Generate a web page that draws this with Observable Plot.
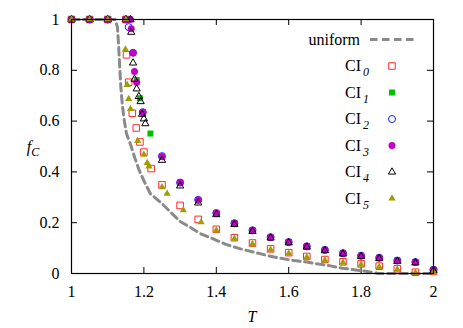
<!DOCTYPE html>
<html><head><meta charset="utf-8">
<script src="https://cdn.jsdelivr.net/npm/d3@7"></script>
<script src="https://cdn.jsdelivr.net/npm/@observablehq/plot@0.6"></script>
<style>body{margin:0;background:#fff}</style>
</head><body><div id="chart"></div>
<script>
// ---- data ----
const xTicks = [1, 1.2, 1.4, 1.6, 1.8, 2];
const yTicks = [0, 0.2, 0.4, 0.6, 0.8, 1];
const xLabel = "T";
const yLabelMain = "f", yLabelSub = "C";
const uniformLabel = "uniform";
const legendBase = "CI";
const legendSubs = ["0", "1", "2", "3", "4", "5"];

const uniT = [1.0, 1.12, 1.127, 1.13, 1.133, 1.136, 1.14, 1.145, 1.152, 1.165, 1.175, 1.186, 1.2, 1.218, 1.25, 1.275, 1.3, 1.33, 1.356, 1.39, 1.43, 1.467, 1.504, 1.54, 1.577, 1.614, 1.65, 1.688, 1.715, 1.748, 1.78, 1.817, 1.85, 2.0];
const uniF = [1, 1, 0.97, 0.9, 0.82, 0.74, 0.67, 0.61, 0.55, 0.5, 0.455, 0.41, 0.365, 0.314, 0.275, 0.24, 0.205, 0.18, 0.157, 0.137, 0.113, 0.097, 0.084, 0.071, 0.06, 0.051, 0.045, 0.036, 0.03, 0.021, 0.015, 0.008, 0, 0];

const ci0T = [1, 1.05, 1.1, 1.15, 1.152, 1.158, 1.168, 1.179, 1.189, 1.2, 1.22, 1.25, 1.3, 1.35, 1.4, 1.45, 1.5, 1.55, 1.6, 1.65, 1.7, 1.75, 1.8, 1.85, 1.9, 1.95, 2.0];
const ci0F = [1, 1, 1, 1, 0.861, 0.753, 0.631, 0.573, 0.518, 0.478, 0.413, 0.349, 0.268, 0.213, 0.174, 0.141, 0.12, 0.097, 0.082, 0.067, 0.055, 0.046, 0.038, 0.029, 0.019, 0.005, 0.008];

const ci1T = [1, 1.05, 1.1, 1.15, 1.18, 1.189, 1.218, 1.25, 1.3, 1.35, 1.4, 1.45, 1.5, 1.55, 1.6, 1.65, 1.7, 1.75, 1.8, 1.85, 1.9, 1.95, 2.0];
const ci1F = [1, 1, 1, 1, 0.762, 0.69, 0.551, 0.46, 0.358, 0.289, 0.238, 0.198, 0.17, 0.143, 0.124, 0.107, 0.093, 0.08, 0.07, 0.062, 0.051, 0.045, 0.015];

const ci2T = [1, 1.05, 1.1, 1.15, 1.158, 1.17, 1.197, 1.25, 1.3, 1.35, 1.4, 1.45, 1.5, 1.55, 1.6, 1.65, 1.7, 1.75, 1.8, 1.85, 1.9, 1.95, 2.0];
const ci2F = [1, 1, 1, 1, 0.97, 0.869, 0.635, 0.462, 0.358, 0.29, 0.238, 0.198, 0.17, 0.143, 0.124, 0.107, 0.093, 0.08, 0.07, 0.062, 0.051, 0.045, 0.015];

const ci3T = [1, 1.05, 1.1, 1.15, 1.163, 1.165, 1.17, 1.174, 1.18, 1.197, 1.25, 1.3, 1.35, 1.4, 1.45, 1.5, 1.55, 1.6, 1.65, 1.7, 1.75, 1.8, 1.85, 1.9, 1.95, 2.0];
const ci3F = [1, 1, 1, 1, 1, 0.964, 0.869, 0.795, 0.753, 0.635, 0.46, 0.358, 0.289, 0.238, 0.198, 0.17, 0.143, 0.124, 0.107, 0.093, 0.08, 0.07, 0.062, 0.051, 0.045, 0.015];

const ci4T = [1, 1.05, 1.1, 1.15, 1.163, 1.165, 1.17, 1.174, 1.18, 1.186, 1.191, 1.195, 1.2, 1.204, 1.25, 1.3, 1.35, 1.4, 1.45, 1.5, 1.55, 1.6, 1.65, 1.7, 1.75, 1.8, 1.85, 1.9, 1.95, 2.0];
const ci4F = [1, 1, 1, 1, 1, 0.95, 0.829, 0.765, 0.727, 0.697, 0.677, 0.627, 0.609, 0.59, 0.446, 0.345, 0.278, 0.232, 0.193, 0.166, 0.14, 0.121, 0.104, 0.09, 0.077, 0.067, 0.059, 0.048, 0.042, 0.012];

const ci5T = [1, 1.05, 1.1, 1.15, 1.149, 1.154, 1.158, 1.163, 1.183, 1.2, 1.209, 1.214, 1.25, 1.264, 1.309, 1.358, 1.4, 1.45, 1.5, 1.55, 1.6, 1.65, 1.7, 1.75, 1.8, 1.85, 1.9, 1.95, 2.0];
const ci5F = [1, 1, 1, 1, 0.882, 0.743, 0.687, 0.648, 0.522, 0.468, 0.435, 0.422, 0.34, 0.314, 0.249, 0.202, 0.17, 0.137, 0.116, 0.094, 0.079, 0.064, 0.052, 0.043, 0.035, 0.026, 0.016, 0.003, 0.005];

// ---- build ----
const rows = (T, F) => T.map((t, i) => ({T: t, f: F[i]}));
const W = 463, H = 328, mL = 71, mR = 30, mT = 19, mB = 55;
const fw = W - mL - mR, fh = H - mT - mB, tk = 6;
const serif = "Liberation Serif";
const styles = [
  {symbol: "square", r: 3.7, stroke: "#ff2a2a", fill: "none", strokeWidth: 1},
  {symbol: "square", r: 3.4, fill: "#00c000", stroke: "none"},
  {symbol: "circle", r: 3.5, stroke: "#1a1aff", fill: "none", strokeWidth: 1},
  {symbol: "circle", r: 3.5, fill: "#c400c8", stroke: "none"},
  {symbol: "triangle", r: 2.7, stroke: "#000", fill: "none", strokeWidth: 1},
  {symbol: "triangle", r: 2.7, fill: "#a39c00", stroke: "none"}
];
const data = [rows(ci0T, ci0F), rows(ci1T, ci1F), rows(ci2T, ci2F), rows(ci3T, ci3F), rows(ci4T, ci4F), rows(ci5T, ci5F)];
const dashStyle = {stroke: "#8a8a8a", strokeWidth: 3, strokeDasharray: "7.5,4.5"};

const plot = Plot.plot({
  width: W, height: H,
  marginLeft: mL, marginRight: mR, marginTop: mT, marginBottom: mB,
  style: {fontFamily: serif, fontSize: "16px", background: "#fff", color: "#000"},
  x: {domain: [1, 2]},
  y: {domain: [0, 1]},
  marks: [
    Plot.axisX(xTicks, {tickSize: 0, tickPadding: 12, tickFormat: d3.format("~g"), label: null}),
    Plot.axisY(yTicks, {tickSize: 0, tickPadding: 12, tickFormat: d3.format("~g"), label: null}),
    Plot.tickX(xTicks, {x: d => d, insetTop: fh - tk, stroke: "#000"}),
    Plot.tickX(xTicks, {x: d => d, insetBottom: fh - tk, stroke: "#000"}),
    Plot.tickY(yTicks, {y: d => d, insetRight: fw - tk, stroke: "#000"}),
    Plot.tickY(yTicks, {y: d => d, insetLeft: fw - tk, stroke: "#000"}),
    Plot.line(rows(uniT, uniF), {x: "T", y: "f", ...dashStyle}),
    ...data.map((d, i) => Plot.dot(d, {x: "T", y: "f", ...styles[i]})),
    Plot.frame({stroke: "#000", strokeWidth: 1.2})
  ]
});
document.getElementById("chart").append(plot);

// ---- labels & key (rich text) ----
const svg = d3.select(plot);
const g = svg.append("g").attr("font-family", serif).attr("fill", "#000");
const yl = g.append("text").attr("x", 33).attr("y", 152).attr("font-size", 16).attr("font-style", "italic");
yl.append("tspan").text(yLabelMain);
yl.append("tspan").attr("font-size", 12).attr("dy", 4).text(yLabelSub);
g.append("text").attr("x", mL + fw / 2).attr("y", H - 6).attr("text-anchor", "middle")
  .attr("font-size", 16).attr("font-style", "italic").text(xLabel);

const keyTextX = 369, keySymX = 392, keyY0 = 39.5, keyDy = 26.5;
g.append("text").attr("x", 360).attr("y", keyY0 + 5).attr("text-anchor", "end").attr("font-size", 16).text(uniformLabel);
g.append("line").attr("x1", 370).attr("x2", 414).attr("y1", keyY0).attr("y2", keyY0)
  .attr("stroke", dashStyle.stroke).attr("stroke-width", dashStyle.strokeWidth).attr("stroke-dasharray", dashStyle.strokeDasharray);
const symMap = {square: d3.symbolSquare, circle: d3.symbolCircle, triangle: d3.symbolTriangle};
legendSubs.forEach((s, i) => {
  const cy = keyY0 + keyDy * (i + 1);
  const t = g.append("text").attr("x", keyTextX).attr("y", cy + 5).attr("text-anchor", "end").attr("font-size", 16);
  t.append("tspan").text(legendBase);
  t.append("tspan").attr("font-size", 12).attr("font-style", "italic").attr("dx", 2).attr("dy", 5).text(s);
  const st = styles[i];
  g.append("path").attr("transform", `translate(${keySymX},${cy})`)
    .attr("d", d3.symbol(symMap[st.symbol], st.r * st.r * Math.PI)())
    .attr("fill", st.fill).attr("stroke", st.stroke).attr("stroke-width", st.strokeWidth || 1);
});
</script>
</body></html>
